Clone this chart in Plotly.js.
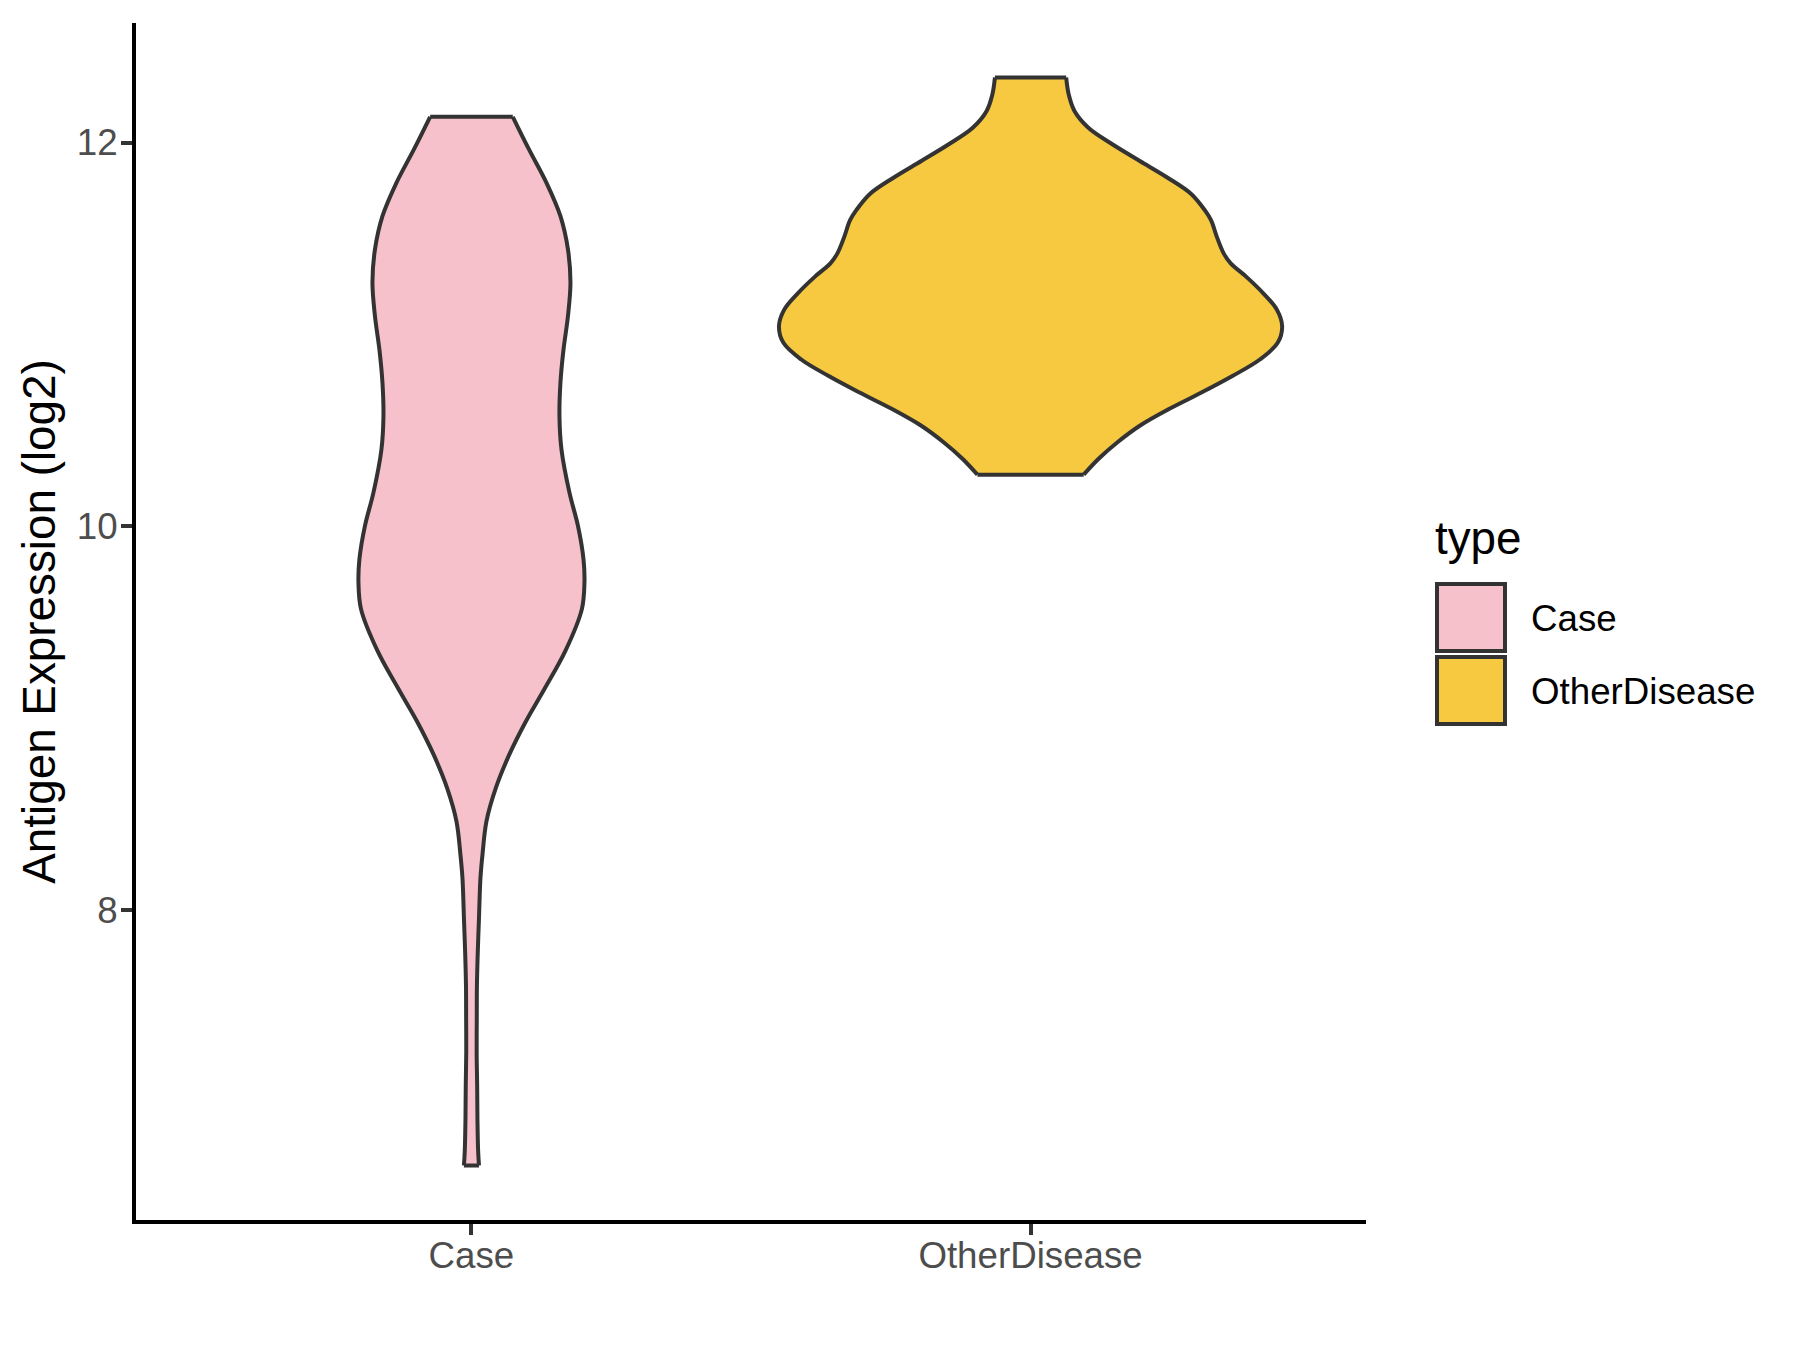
<!DOCTYPE html>
<html>
<head>
<meta charset="utf-8">
<script src="https://cdn.plot.ly/plotly-3.0.1.min.js"></script>
<style>html,body{margin:0;padding:0;background:#fff;}</style>
</head>
<body>
<div id="chart" style="width:1800px;height:1350px;"></div>
<script>
// ---- data ----
const categories = ["Case", "OtherDisease"];
const fillColors = ["#F7C1CB", "#F6C940"];

// Case violin: expression levels (log2) and half-width of the density outline (category units)
const caseY = [6.668, 6.74, 6.91, 7.085, 7.26, 7.432, 7.606, 7.78, 7.953, 8.167, 8.288, 8.462, 8.635, 8.808, 8.981, 9.154, 9.35, 9.568, 9.707, 9.828, 10.002, 10.175, 10.40, 10.574, 10.75, 10.92, 11.095, 11.27, 11.443, 11.616, 11.79, 11.964, 12.134];
const caseHalfWidth = [0.0135, 0.012, 0.0107, 0.0102, 0.0093, 0.0095, 0.0098, 0.0113, 0.0134, 0.0161, 0.0197, 0.0268, 0.0435, 0.0674, 0.097, 0.131, 0.168, 0.1975, 0.2021, 0.2004, 0.1905, 0.1753, 0.1610, 0.1574, 0.1592, 0.1646, 0.1726, 0.1771, 0.1726, 0.1592, 0.1342, 0.1029, 0.0739];

// OtherDisease violin
const otherY = [10.269, 10.352, 10.438, 10.524, 10.611, 10.697, 10.783, 10.869, 10.956, 11.042, 11.128, 11.214, 11.301, 11.37, 11.421, 11.507, 11.594, 11.646, 11.732, 11.818, 11.904, 11.991, 12.077, 12.163, 12.249, 12.339];
const otherHalfWidth = [0.095, 0.1218, 0.1555, 0.1954, 0.2476, 0.3058, 0.3610, 0.4101, 0.4420, 0.4500, 0.4408, 0.4163, 0.3856, 0.3580, 0.3457, 0.3334, 0.3230, 0.3120, 0.2874, 0.2445, 0.1954, 0.1463, 0.1034, 0.0788, 0.0684, 0.0637];

const yTicks = [8, 10, 12];
const yRange = [6.384, 12.623];
const xRange = [-0.6, 1.6];
const yTitle = "Antigen Expression (log2)";
const legendTitle = "type";

const FONT = "Liberation Sans, Arial, sans-serif";
const OUTLINE = "#333333";
const LW = 4;

// ---- build violins ----
const traces = [];
[[caseY, caseHalfWidth], [otherY, otherHalfWidth]].forEach((s, k) => {
  const ys = s[0], hws = s[1], n = ys.length;
  const right = ys.map((y, i) => k + hws[i]);
  const left = ys.map((y, i) => k - hws[i]);
  // left side outline
  traces.push({
    type: "scatter", mode: "lines", x: left, y: ys,
    line: {color: OUTLINE, width: LW, shape: "spline", smoothing: 1},
    showlegend: false, hoverinfo: "skip"
  });
  // right side outline, filled across to the left side
  traces.push({
    type: "scatter", mode: "lines", x: right, y: ys,
    fill: "tonextx", fillcolor: fillColors[k],
    line: {color: OUTLINE, width: LW, shape: "spline", smoothing: 1},
    showlegend: false, hoverinfo: "skip"
  });
  // flat caps at the data extremes
  traces.push({
    type: "scatter", mode: "lines",
    x: [left[0], right[0], null, left[n - 1], right[n - 1]],
    y: [ys[0], ys[0], null, ys[n - 1], ys[n - 1]],
    line: {color: OUTLINE, width: LW}, showlegend: false, hoverinfo: "skip"
  });
});

// ---- custom legend (paper coordinates) ----
const L = 136, R = 1366, T = 23, B = 1220;
const px = v => (v - L) / (R - L);
const py = v => (B - v) / (B - T);
const keyTops = [584, 657], keyH = 67;
const shapes = [], annotations = [];
categories.forEach((c, k) => {
  shapes.push({type: "rect", xref: "paper", yref: "paper",
    x0: px(1437), x1: px(1505), y0: py(keyTops[k] + keyH), y1: py(keyTops[k]),
    fillcolor: fillColors[k], line: {color: OUTLINE, width: LW}});
  annotations.push({xref: "paper", yref: "paper", x: px(1529), y: py(keyTops[k] + keyH / 2 + 1),
    xanchor: "left", yanchor: "middle", showarrow: false, text: c,
    font: {family: FONT, size: 36.7, color: "#000000"}});
});
annotations.push({xref: "paper", yref: "paper", x: px(1433), y: py(538),
  xanchor: "left", yanchor: "middle", showarrow: false, text: legendTitle,
  font: {family: FONT, size: 45.8, color: "#000000"}});

const axisCommon = {
  showline: true, linecolor: "#000000", linewidth: 4,
  ticks: "outside", ticklen: 11, tickwidth: 4, tickcolor: "#333333",
  tickfont: {family: FONT, size: 36.7, color: "#4D4D4D"},
  showgrid: false, zeroline: false, fixedrange: true
};

const layout = {
  width: 1800, height: 1350,
  margin: {l: L, r: 1800 - R, t: T, b: 1350 - B, pad: 0},
  paper_bgcolor: "#FFFFFF", plot_bgcolor: "#FFFFFF",
  showlegend: false,
  xaxis: Object.assign({}, axisCommon, {
    range: xRange, tickmode: "array", tickvals: [0, 1], ticktext: categories,
    ticklabelstandoff: -11
  }),
  yaxis: Object.assign({}, axisCommon, {
    range: yRange, tickmode: "array", tickvals: yTicks, ticktext: yTicks.map(String),
    ticklabelstandoff: -4,
    title: {text: yTitle, font: {family: FONT, size: 45.8, color: "#000000"}, standoff: 8}
  }),
  shapes, annotations
};

Plotly.newPlot("chart", traces, layout, {displayModeBar: false, staticPlot: true});
</script>
</body>
</html>
